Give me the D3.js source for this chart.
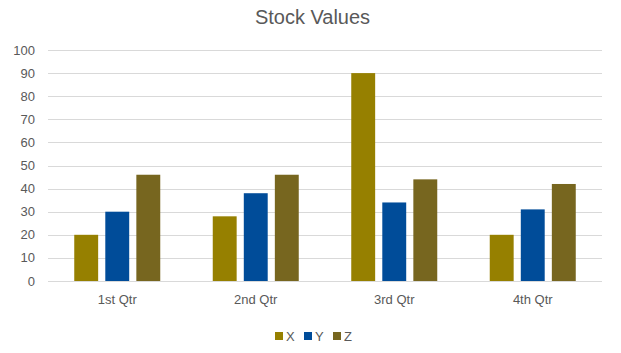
<!DOCTYPE html>
<html>
<head>
<meta charset="utf-8">
<title>Stock Values</title>
<style>
  body { margin: 0; background: #fff; }
  text { font-family: "Liberation Sans", Arial, sans-serif; fill: #595959; }
</style>
</head>
<body>
<svg width="621" height="353"></svg>
<script src="https://d3js.org/d3.v7.min.js"></script>
<script>
const categories = ["1st Qtr", "2nd Qtr", "3rd Qtr", "4th Qtr"];
const seriesNames = ["X", "Y", "Z"];
const xValues = [20, 28, 90, 20];
const yValues = [30, 38, 34, 31];
const zValues = [46, 46, 44, 42];
const yTicks = [0, 10, 20, 30, 40, 50, 60, 70, 80, 90, 100];
const colors = ["#968000", "#004c99", "#77661f"];

const seriesValues = [xValues, yValues, zValues];
const rows = categories.map((c, i) => ({ cat: c, vals: seriesNames.map((s, j) => ({ key: s, v: seriesValues[j][i] })) }));

const svg = d3.select("svg");
const margin = { left: 48, right: 19, top: 50, bottom: 72 };
const W = 621, H = 353;

const x = d3.scaleBand().domain(categories).range([margin.left, W - margin.right]);
const y = d3.scaleLinear().domain([0, 100]).range([H - margin.bottom, margin.top]);
const inner = d3.scaleBand().domain(seriesNames).range([0, 86]).paddingInner(0.23);
const color = d3.scaleOrdinal().domain(seriesNames).range(colors);

// title
svg.append("text")
  .attr("x", W / 2 + 2).attr("y", 24)
  .attr("text-anchor", "middle")
  .style("font-size", "20px")
  .text("Stock Values");

// grid
svg.append("g").selectAll("line").data(yTicks).join("line")
  .attr("x1", margin.left).attr("x2", W - margin.right)
  .attr("y1", d => Math.round(y(d)) + 0.5).attr("y2", d => Math.round(y(d)) + 0.5)
  .attr("stroke", "#d9d9d9").attr("stroke-width", 1);

// y labels
svg.append("g").selectAll("text").data(yTicks).join("text")
  .attr("x", 35).attr("y", d => y(d))
  .attr("dy", "0.35em")
  .attr("text-anchor", "end")
  .style("font-size", "13px")
  .text(d => d);

// bars
const groups = svg.append("g").selectAll("g").data(rows).join("g")
  .attr("transform", d => `translate(${x(d.cat) + (x.bandwidth() - 86) / 2},0)`);
groups.selectAll("rect").data(d => d.vals).join("rect")
  .attr("x", d => inner(d.key))
  .attr("width", inner.bandwidth())
  .attr("y", d => y(d.v))
  .attr("height", d => y(0) - y(d.v))
  .attr("fill", d => color(d.key));

// category labels
svg.append("g").selectAll("text").data(categories).join("text")
  .attr("x", d => x(d) + x.bandwidth() / 2)
  .attr("y", 304)
  .attr("text-anchor", "middle")
  .style("font-size", "13px")
  .text(d => d);

// legend
const lg = svg.append("g").selectAll("g").data(seriesNames).join("g")
  .attr("transform", (d, i) => `translate(${275 + i * 29},332)`);
lg.append("rect").attr("width", 8).attr("height", 8).attr("fill", d => color(d));
lg.append("text").attr("x", 11).attr("y", 4).attr("dy", "0.38em")
  .style("font-size", "13px").text(d => d);
</script>
</body>
</html>
